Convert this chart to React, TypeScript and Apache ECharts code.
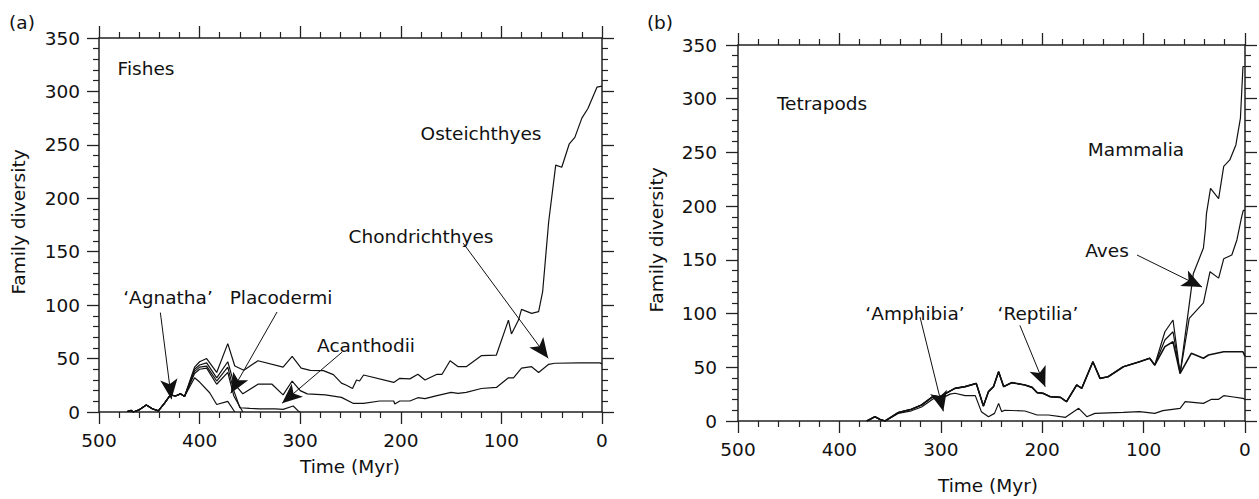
import React, { useEffect, useRef } from "react";
import * as echarts from "echarts";

// ---------- Panel (a): Fishes (times in Myr, cumulative family diversity) ----------
const fishCommonT = [472, 468, 466, 460, 453, 447, 441, 435, 429, 424, 419, 415];
const fishCommonV = [0.5, 1.5, 0, 2, 6.5, 3, 1, 8, 16, 15, 17, 14.5];

const osteT = [405, 400, 393, 383, 372, 365, 356, 342, 317, 308, 299, 290, 277, 267, 259, 254, 248, 244, 241, 237, 207, 201, 191, 183, 176, 164, 159, 151, 143, 135, 120, 105, 93, 90, 83, 80, 70, 63, 59, 53, 46, 40, 32.5, 27, 20, 14, 5, 0];
const osteV = [42, 47, 50, 37, 64, 43, 39, 48, 42, 52, 41, 39, 38.7, 35, 27, 25, 22, 30, 29, 34.6, 27.7, 31.5, 31, 35.3, 30, 35.3, 35.3, 48, 42.4, 42.4, 52.7, 53.3, 86, 73, 86, 96, 92.3, 94, 112.6, 178, 231, 229, 251, 257, 275, 284, 304, 305];

const chonT = [405, 400, 393, 383, 372, 366, 357, 342, 328, 317, 308, 300, 293, 275, 259, 247, 237, 221, 207, 206, 201, 191, 183, 176, 164, 150, 143, 135, 120, 105, 93, 88, 80, 70, 63, 53, 47, 22, 2, 0];
const chonV = [40, 44, 46, 32, 47, 27, 17, 26, 26, 16, 29, 20, 17, 16, 13.7, 8, 8, 10.3, 10.3, 7.5, 10.3, 10.3, 13.4, 12.5, 15.3, 18.4, 17.5, 18.4, 22, 23, 32, 32, 41, 42.4, 37, 44.6, 45.6, 46, 46, 45];

const acanT = [405, 400, 393, 383, 372, 366, 360, 350, 340, 325, 317, 307, 302, 300];
const acanV = [38, 42, 43, 29, 42, 20, 4, 3.4, 3, 3, 2.5, 5.6, 1, 0];

const placT = [405, 400, 393, 383, 372, 366, 357];
const placV = [36, 40, 41, 26, 37, 15, 0];

const agnaT = [405, 400, 390, 383, 372, 365];
const agnaV = [32, 28, 18, 7, 10, 0];

// ---------- Panel (b): Tetrapods ----------
const amphT = [373, 365, 360, 355, 342, 329, 319, 307, 301, 291, 286, 276, 266, 260, 253, 247, 243, 240, 237, 217, 205, 194, 182, 177, 164, 156, 148, 120, 104, 89, 81, 64, 59, 41, 33, 26, 21, 13, 2, 0];
const amphV = [0, 4, 1.5, 0, 7, 9.5, 13, 21, 20, 25, 25.8, 23.6, 23.6, 8.7, 4, 7.1, 16.4, 8.7, 10, 9.3, 5.6, 5.6, 4, 3.4, 11.8, 4, 7.1, 8.1, 8.7, 7.1, 9.6, 11.8, 18, 16.4, 20.2, 20.2, 23.6, 22.6, 21.1, 20];

const tetraBaseT = [373, 365, 360, 355, 342, 329, 319, 307, 301, 286, 276, 265, 258, 253, 248, 243, 238, 230, 217, 210, 205, 199, 192, 182, 176, 166, 161, 150, 143, 135, 120, 104, 94, 89];
const tetraBaseV = [0, 4, 1.5, 0, 7.8, 10.9, 14.9, 23.3, 22.6, 30.4, 32, 35, 14, 27.3, 32, 45.9, 32, 35.7, 33.5, 31.3, 26.4, 25.7, 22.6, 22, 18, 33.5, 30.4, 55.2, 39.7, 41.2, 50.5, 55.2, 58.4, 52.1];

const reptT = [79, 71, 64, 53, 41, 36, 21, 2, 0];
const reptV = [69.2, 73.8, 44.4, 63, 58.4, 61.4, 64.5, 64.5, 60];

const avesT = [79, 71, 64, 55, 41, 34.5, 26, 21, 13, 8, 3.3, 1.7, 0];
const avesV = [75.4, 83.1, 44.4, 95.6, 110, 139, 133, 151, 154.5, 168.5, 190, 196, 196];

const mammT = [79, 71, 64, 51, 41, 39, 38, 34, 26, 21, 15, 9, 4.5, 2, 0];
const mammV = [83.1, 94, 44.4, 137, 161, 179, 193, 216.6, 207, 237, 243, 257, 282, 330, 330];

// ---------- Annotation arrows: [tailTime, tailValue, tipTime, tipValue] ----------
const fishArrows = [
  [439, 93, 428, 12],
  [323, 93.6, 369, 17.5],
  [258.4, 56, 318, 8.2],
  [138, 158, 53.5, 50.2],
];
const tetraArrows = [
  [320.5, 96.8, 297.5, 9],
  [222, 89, 197, 31.8],
  [106.5, 154.5, 42.4, 124.7],
];

const xTicks = { min: 0, max: 500, interval: 100 };
const yTicks = { min: 0, max: 350, interval: 50 };

const FONT = '"DejaVu Sans", "Liberation Sans", sans-serif';
const FS = 18.5;
const INK = "#111";

function zip(ts: number[], vs: number[]) {
  return ts.map((t, i) => [t, vs[i]]);
}

export default function App() {
  const ref = useRef<HTMLDivElement>(null);
  useEffect(() => {
    if (!ref.current) return;
    const chart = echarts.init(ref.current, undefined, { renderer: "svg" });

    const grids = [
      { left: 99, top: 38, width: 503, height: 374 },
      { left: 738, top: 45, width: 507, height: 376 },
    ];

    const axisLine = { show: true, onZero: false, lineStyle: { color: "#222", width: 1.5 } };
    const axisTick = { show: true, inside: false, length: 12, lineStyle: { color: "#222", width: 1.3 } };
    const minorTick = { show: true, splitNumber: 5, length: 6, lineStyle: { color: "#222", width: 1.2 } };
    const labelStyle = { color: INK, fontFamily: FONT, fontSize: FS };

    const xAxis: any[] = [];
    const yAxis: any[] = [];
    [0, 1].forEach((g) => {
      xAxis.push({
        type: "value", gridIndex: g, position: "bottom", inverse: true,
        min: xTicks.min, max: xTicks.max, interval: xTicks.interval,
        axisLine, axisTick, minorTick, splitLine: { show: false },
        axisLabel: { ...labelStyle, margin: 19, showMinLabel: true, showMaxLabel: true },
      });
      xAxis.push({
        type: "value", gridIndex: g, position: "top", inverse: true,
        min: xTicks.min, max: xTicks.max, interval: xTicks.interval,
        axisLine, axisTick, minorTick, splitLine: { show: false },
        axisLabel: { show: false },
      });
      yAxis.push({
        type: "value", gridIndex: g, position: "left",
        min: yTicks.min, max: yTicks.max, interval: yTicks.interval,
        axisLine, axisTick, minorTick, splitLine: { show: false },
        axisLabel: { ...labelStyle, margin: g === 0 ? 19 : 21, showMinLabel: true, showMaxLabel: true },
      });
      yAxis.push({
        type: "value", gridIndex: g, position: "right",
        min: yTicks.min, max: yTicks.max, interval: yTicks.interval,
        axisLine, axisTick, minorTick, splitLine: { show: false },
        axisLabel: { show: false },
      });
    });

    const lineSeries = (name: string, data: number[][], g: number, extra: any = {}) => ({
      name, type: "line", data, xAxisIndex: g * 2, yAxisIndex: g * 2,
      showSymbol: false, symbol: "none", silent: true,
      lineStyle: { color: INK, width: 1.2 }, ...extra,
    });

    const arrowMark = (arrows: number[][]) => ({
      silent: true, symbol: ["none", "arrow"], symbolSize: [13, 20],
      label: { show: false }, animation: false,
      lineStyle: { color: INK, width: 1, type: "solid" },
      itemStyle: { color: INK },
      data: arrows.map((a) => [{ coord: [a[0], a[1]] }, { coord: [a[2], a[3]] }]),
    });

    const fishPre = zip(fishCommonT, fishCommonV);
    const tetraPre = zip(tetraBaseT, tetraBaseV);

    const series: any[] = [
      lineSeries("Osteichthyes", fishPre.concat(zip(osteT, osteV)), 0),
      lineSeries("Chondrichthyes", fishPre.concat(zip(chonT, chonV)), 0),
      lineSeries("Acanthodii", fishPre.concat(zip(acanT, acanV)), 0),
      lineSeries("Placodermi", fishPre.concat(zip(placT, placV)), 0),
      lineSeries("Agnatha", fishPre.concat(zip(agnaT, agnaV)), 0, { markLine: arrowMark(fishArrows) }),
      lineSeries("Amphibia", zip(amphT, amphV), 1),
      lineSeries("Reptilia", tetraPre.concat(zip(reptT, reptV)), 1, { lineStyle: { color: INK, width: 1.6 } }),
      lineSeries("Aves", tetraPre.concat(zip(avesT, avesV)), 1),
      lineSeries("Mammalia", tetraPre.concat(zip(mammT, mammV)), 1, { markLine: arrowMark(tetraArrows) }),
    ];

    const txt = (text: string, x: number, y: number, extra: any = {}) => ({
      type: "text", x, y, silent: true, ...extra,
      style: { text, fill: INK, fontFamily: FONT, fontSize: FS, align: "center", verticalAlign: "middle" },
    });

    const graphic = [
      txt("(a)", 22, 22),
      txt("(b)", 660, 22),
      txt("Fishes", 146, 68),
      txt("Osteichthyes", 481, 133),
      txt("Chondrichthyes", 421, 236),
      txt("\u2018Agnatha\u2019", 168, 297),
      txt("Placodermi", 281, 297),
      txt("Acanthodii", 366, 345),
      txt("Tetrapods", 822, 103),
      txt("Mammalia", 1136, 149),
      txt("Aves", 1107, 250),
      txt("\u2018Amphibia\u2019", 915, 313),
      txt("\u2018Reptilia\u2019", 1038, 313),
      txt("Time (Myr)", 350, 466),
      txt("Time (Myr)", 988, 485),
      txt("Family diversity", 18, 222, { rotation: Math.PI / 2 }),
      txt("Family diversity", 656, 240, { rotation: Math.PI / 2 }),
    ];

    chart.setOption({
      animation: false,
      backgroundColor: "#fff",
      grid: grids,
      xAxis,
      yAxis,
      series,
      graphic,
    });
    return () => chart.dispose();
  }, []);

  return (
    <div
      ref={ref}
      style={{ position: "fixed", left: 0, top: 0, width: 1259, height: 499, background: "#fff" }}
    />
  );
}
